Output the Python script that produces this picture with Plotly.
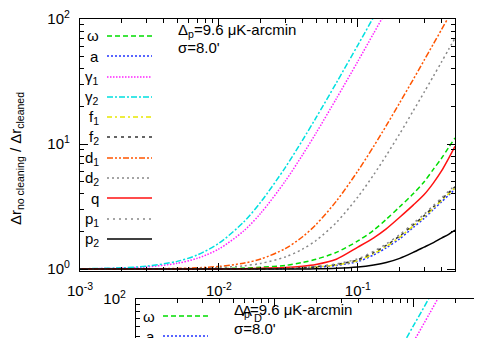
import plotly.graph_objects as go

W, H = 482, 338
OX, OY = 8, 8   # the page body adds an 8px margin; positions below are in window pixels

# ---- data ----
x_vals = [0.001, 0.002, 0.003, 0.005, 0.007, 0.01, 0.015, 0.02, 0.03, 0.04, 0.05,
          0.07, 0.1, 0.13, 0.16, 0.2, 0.25, 0.3, 0.35, 0.4, 0.45, 0.5]

omega = [1.0, 1.0, 1.001, 1.003, 1.006, 1.01, 1.02, 1.035, 1.07, 1.13, 1.2,
         1.36, 1.68, 2.05, 2.5, 3.15, 4.0, 5.0, 6.3, 7.7, 9.4, 11.2]
a_ = [1.0, 1.0, 1.0, 1.0, 1.0, 1.001, 1.003, 1.005, 1.01, 1.02, 1.035,
      1.07, 1.15, 1.3, 1.48, 1.75, 2.15, 2.55, 3.0, 3.45, 3.9, 4.35]
gam1 = [1.0045, 1.018, 1.041, 1.113, 1.221, 1.45, 2.01, 2.8, 5.05, 8.21, 12.26,
        23.1, 46.0, 77.1, 116, 181, 282, 406, 553, 722, 913, 1127]
gam2 = [1.006, 1.024, 1.055, 1.153, 1.299, 1.61, 2.37, 3.44, 6.49, 10.77, 16.26,
        30.9, 62.0, 104, 157, 245, 382, 550, 749, 978, 1237, 1527]
f1 = [1.0, 1.0, 1.0, 1.0, 1.0, 1.001, 1.003, 1.006, 1.012, 1.023, 1.04,
      1.08, 1.17, 1.33, 1.52, 1.8, 2.21, 2.62, 3.08, 3.54, 4.0, 4.46]
f2 = [1.0, 1.0, 1.0, 1.0, 1.0, 1.001, 1.004, 1.007, 1.015, 1.027, 1.045,
      1.09, 1.19, 1.36, 1.55, 1.84, 2.26, 2.68, 3.15, 3.62, 4.09, 4.56]
d1 = [1.0005, 1.002, 1.0046, 1.013, 1.025, 1.051, 1.115, 1.204, 1.459, 1.815, 2.274,
      3.497, 6.1, 9.61, 14.04, 21.4, 32.8, 46.9, 63.4, 82.5, 104, 128]
d2 = [1.0003, 1.001, 1.0025, 1.007, 1.014, 1.028, 1.0625, 1.111, 1.25, 1.444, 1.694,
      2.36, 3.78, 5.69, 8.11, 12.1, 18.4, 26, 35, 45.4, 57.3, 70.4]
q = [1.0, 1.0, 1.0, 1.001, 1.002, 1.004, 1.008, 1.015, 1.03, 1.055, 1.09,
     1.2, 1.5, 1.78, 2.1, 2.6, 3.25, 3.95, 4.9, 6.1, 7.7, 9.6]
p1 = [1.0, 1.0, 1.0, 1.0, 1.0, 1.001, 1.004, 1.008, 1.018, 1.03, 1.05,
      1.1, 1.21, 1.39, 1.59, 1.89, 2.32, 2.75, 3.23, 3.71, 4.2, 4.68]
p2 = [1.0, 1.0, 1.0, 1.0, 1.0, 1.0, 1.0, 1.0, 1.001, 1.003, 1.005,
      1.015, 1.04, 1.08, 1.13, 1.22, 1.36, 1.5, 1.63, 1.77, 1.9, 2.05]

labels = ["ω", "a", "γ<sub>1</sub>", "γ<sub>2</sub>", "f<sub>1</sub>", "f<sub>2</sub>",
          "d<sub>1</sub>", "d<sub>2</sub>", "q", "p<sub>1</sub>", "p<sub>2</sub>"]
series = [omega, a_, gam1, gam2, f1, f2, d1, d2, q, p1, p2]
colors = ["#00dd00", "#2233ff", "#ff22ff", "#00e0e0", "#e8e800", "#333333",
          "#ff5500", "#888888", "#ff1111", "#888888", "#000000"]
dashes = ["5px,3px", "2px,2px", "1.5px,1.5px", "6px,2px,2px,2px", "5px,3px,2px,3px", "3px,4px",
          "6px,2px,2px,2px,2px,2px", "2px,3px", "solid", "2px,4px", "solid"]

FONT = "Liberation Sans, Arial, sans-serif"


def px(x):
    return (x - OX) / W


def py(y):
    return 1 - (y - OY) / H


fig = go.Figure()

for k, (lab, ys) in enumerate(zip(labels, series)):
    for ax in ("", "2"):
        fig.add_trace(go.Scatter(
            x=x_vals, y=ys, mode="lines", name=lab, showlegend=False,
            xaxis="x" + ax, yaxis="y" + ax,
            line=dict(color=colors[k], dash=dashes[k], width=1.5, shape="spline", smoothing=0.8),
        ))

minor_x = [m * 10 ** e for e in range(-3, 0) for m in range(2, 10)]
minor_y = [m * 10 ** e for e in range(0, 2) for m in range(2, 10)]

axis_common = dict(type="log", showgrid=False, zeroline=False, linecolor="black", linewidth=1.3,
                   ticks="inside", ticklen=8, tickwidth=1, tickcolor="black", automargin=False,
                   tickfont=dict(family=FONT, size=15, color="black"))
minor_common = dict(tickmode="array", ticks="inside", ticklen=4, tickcolor="black", showgrid=False)

# main panel: 80..455 px wide, 19..271 px tall
dec_x = (455 - 80) / 2.69897
dec_y = (271 - 19) / 2.0155
w2 = W + OX - 136
h2 = H + OY - 299

fig.update_layout(
    width=W, height=H, margin=dict(l=0, r=0, t=0, b=0, pad=0, autoexpand=False),
    paper_bgcolor="white", plot_bgcolor="white", showlegend=False,
    xaxis=dict(**axis_common, domain=[px(80), px(455)], range=[-3, -0.30103],
               mirror="allticks", showline=True, anchor="y",
               tickmode="array", tickvals=[0.001, 0.01, 0.1],
               ticktext=["10<sup>-3</sup>", "10<sup>-2</sup>", "10<sup>-1</sup>"],
               ticklabelstandoff=6,
               minor=dict(**minor_common, tickvals=minor_x)),
    yaxis=dict(**axis_common, domain=[py(271), py(19)], range=[-0.015, 2.0005],
               mirror="allticks", showline=True, anchor="x",
               tickmode="array", tickvals=[1, 10, 100],
               ticktext=["10<sup>0</sup>", "10<sup>1</sup>", "10<sup>2</sup>"],
               ticklabelstandoff=6,
               minor=dict(**minor_common, tickvals=minor_y)),
    # second (overlapping) copy of the same panel, cut by the image edge
    xaxis2=dict(**axis_common, domain=[px(136), 1], range=[-3, -3 + w2 / dec_x],
                side="top", showline=True, mirror=False, anchor="y2", showticklabels=False,
                tickmode="array", tickvals=[0.001, 0.01, 0.1],
                minor=dict(**minor_common, tickvals=minor_x)),
    yaxis2=dict(**axis_common, domain=[0, py(299)], range=[2 - h2 / dec_y, 2.0005],
                showline=True, mirror=False, anchor="x2",
                tickmode="array", tickvals=[100], ticktext=["10<sup>2</sup>"],
                ticklabelstandoff=6,
                minor=dict(**minor_common, tickvals=minor_y)),
)

# hand-drawn key (text on the left, sample on the right), for both copies
leg_y = [36, 56, 77, 97, 117, 137, 158, 178, 198, 219, 239]
for dx, dy, n in ((0, 0, len(labels)), (56, 280, 2)):
    for k in range(n):
        yy = leg_y[k] + dy
        fig.add_annotation(x=px(101 + dx), y=py(yy), xref="paper", yref="paper",
                           text=labels[k], showarrow=False, xanchor="right", yanchor="middle",
                           font=dict(family=FONT, size=15, color="black"))
        fig.add_shape(type="line", xref="paper", yref="paper",
                      x0=px(107 + dx), x1=px(152 + dx), y0=py(yy), y1=py(yy),
                      line=dict(color=colors[k], dash=dashes[k], width=1.5))

    fig.add_annotation(x=px(176 + dx), y=py(30 + dy), xref="paper", yref="paper",
                       text="Δ<sub>p</sub>=9.6 μK-arcmin", showarrow=False,
                       xanchor="left", yanchor="middle",
                       font=dict(family=FONT, size=15, color="black"))
    fig.add_annotation(x=px(176 + dx), y=py(48 + dy), xref="paper", yref="paper",
                       text="σ=8.0'", showarrow=False, xanchor="left", yanchor="middle",
                       font=dict(family=FONT, size=15, color="black"))

# garbled glyphs in the lower copy
fig.add_annotation(x=px(240), y=py(310), xref="paper", yref="paper", text="A",
                   showarrow=False, xanchor="left", yanchor="middle",
                   font=dict(family=FONT, size=15, color="black"))
fig.add_annotation(x=px(252), y=py(318), xref="paper", yref="paper", text="D",
                   showarrow=False, xanchor="left", yanchor="middle",
                   font=dict(family=FONT, size=11, color="black"))

fig.add_annotation(x=px(17), y=py(159), xref="paper", yref="paper",
                   text="Δr<sub>no cleaning</sub> / Δr<sub>cleaned</sub>", showarrow=False,
                   textangle=-90, xanchor="center", yanchor="middle",
                   font=dict(family=FONT, size=15, color="black"))

fig.write_html("out.html")
